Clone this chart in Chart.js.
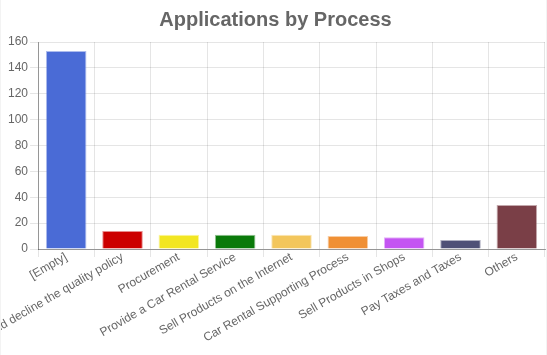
<!DOCTYPE html>
<html>
<head>
<meta charset="utf-8">
<script src="https://cdn.jsdelivr.net/npm/chart.js@4/dist/chart.umd.min.js"></script>
<style>
  html, body { margin: 0; padding: 0; background: #fff; }
  #wrap { width: 545px; height: 355px; border-left: 1px solid #f3f3f3; border-right: 1px solid #f3f3f3; }
  canvas { display: block; }
</style>
</head>
<body>
<div id="wrap"><canvas id="c" width="545" height="355"></canvas></div>
<script>
const categories = [
  "[Empty]",
  "Approve and decline the quality policy",
  "Procurement",
  "Provide a Car Rental Service",
  "Sell Products on the Internet",
  "Car Rental Supporting Process",
  "Sell Products in Shops",
  "Pay Taxes and Taxes",
  "Others"
];
const applications = [153, 14, 11, 11, 11, 10, 9, 7, 34];
const barColors = [
  "#4a6bd6", "#cc0000", "#f2e622", "#0a7a0a", "#f3c65c",
  "#f09035", "#c455f2", "#4f5077", "#7a3f47"
];
const yTicks = { min: 0, max: 160, step: 20 };

function withAlpha(hex, a) {
  const n = parseInt(hex.slice(1), 16);
  return `rgba(${(n >> 16) & 255},${(n >> 8) & 255},${n & 255},${a})`;
}

Chart.defaults.font.family = "'Liberation Sans', Arial, Helvetica, sans-serif";
Chart.defaults.color = "#666";

new Chart(document.getElementById("c"), {
  type: "bar",
  data: {
    labels: categories,
    datasets: [{
      label: "Applications",
      data: applications,
      backgroundColor: barColors,
      borderColor: barColors.map(c => withAlpha(c, 0.45)),
      borderWidth: 1
    }]
  },
  options: {
    responsive: false,
    animation: false,
    layout: { padding: { left: 5, right: 1, top: 0, bottom: 0 } },
    plugins: {
      legend: { display: false },
      tooltip: { enabled: false },
      title: {
        display: true,
        text: "Applications by Process",
        color: "#666",
        font: { size: 20, weight: "bold" },
        padding: { top: 8, bottom: 10 }
      }
    },
    scales: {
      x: {
        grid: { color: "rgba(0,0,0,0.1)", tickLength: 8 },
        border: { color: "rgba(0,0,0,0.35)" },
        ticks: { font: { size: 12 }, color: "#666", minRotation: 30, maxRotation: 30, autoSkip: false, padding: -7 },
        afterFit: (scale) => { scale.height = 106; }
      },
      y: {
        min: yTicks.min,
        max: yTicks.max,
        grid: { color: "rgba(0,0,0,0.1)", tickLength: 8 },
        border: { color: "rgba(0,0,0,0.35)" },
        ticks: { stepSize: yTicks.step, font: { size: 12 }, color: "#666", padding: 2 }
      }
    }
  }
});
</script>
</body>
</html>
